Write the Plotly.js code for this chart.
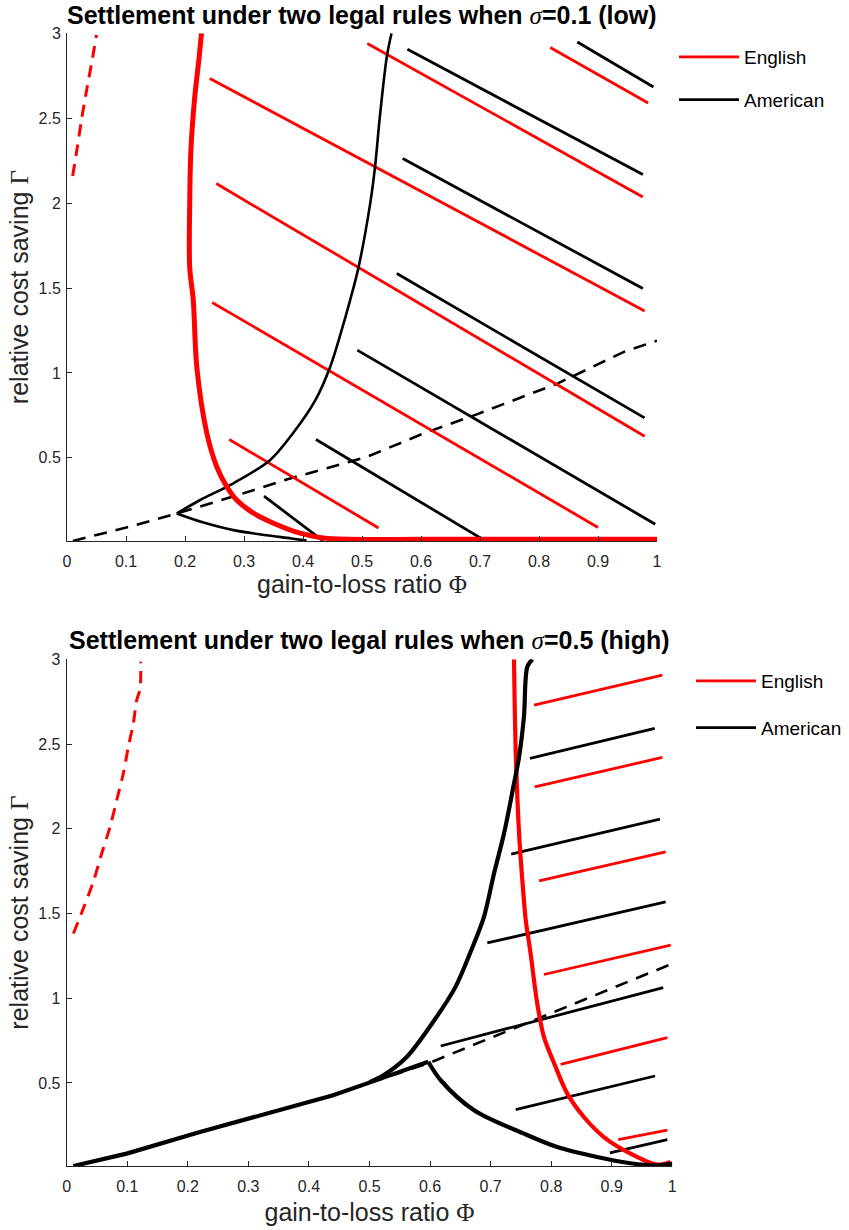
<!DOCTYPE html>
<html>
<head>
<meta charset="utf-8">
<script src="https://cdn.plot.ly/plotly-3.0.1.min.js"></script>
<style>html,body{margin:0;padding:0;background:#fff;}#chart{width:849px;height:1230px;}</style>
</head>
<body>
<div id="chart"></div>
<script>
// ---------- tick labels ----------
const xTickVals = [0, 0.1, 0.2, 0.3, 0.4, 0.5, 0.6, 0.7, 0.8, 0.9, 1];
const xTickText = ["0", "0.1", "0.2", "0.3", "0.4", "0.5", "0.6", "0.7", "0.8", "0.9", "1"];
const yTickVals = [0.5, 1, 1.5, 2, 2.5, 3];
const yTickText = ["0.5", "1", "1.5", "2", "2.5", "3"];

// ---------- top panel: sigma = 0.1 ----------
const topEnglishBoundaryX = [0.228, 0.224, 0.216, 0.21, 0.208, 0.208, 0.214, 0.22, 0.237, 0.254, 0.271, 0.288, 0.316, 0.35, 0.395, 0.434, 0.48, 0.6, 0.8, 1.0];
const topEnglishBoundaryY = [3.0, 2.86, 2.606, 2.31, 2.0, 1.62, 1.43, 1.035, 0.645, 0.446, 0.329, 0.25, 0.174, 0.115, 0.056, 0.028, 0.02, 0.02, 0.02, 0.02];
const topEnglishDashedX = [0.0096, 0.018, 0.025, 0.033, 0.042, 0.05];
const topEnglishDashedY = [2.16, 2.34, 2.5, 2.66, 2.83, 2.99];
const topAmericanUpperX = [0.55, 0.542, 0.53, 0.522, 0.514, 0.494, 0.48, 0.464, 0.446, 0.421, 0.383, 0.344, 0.282, 0.225, 0.186];
const topAmericanUpperY = [3.0, 2.86, 2.5, 2.21, 2.0, 1.62, 1.43, 1.234, 1.035, 0.84, 0.645, 0.486, 0.35, 0.25, 0.172];
const topAmericanLowerX = [0.186, 0.23, 0.282, 0.338, 0.38, 0.406];
const topAmericanLowerY = [0.172, 0.12, 0.074, 0.044, 0.025, 0.012];
const topAmericanDashedX = [0.01, 0.112, 0.186, 0.28, 0.378, 0.508, 0.604, 0.69, 0.831, 0.944, 1.0];
const topAmericanDashedY = [0.01, 0.1, 0.172, 0.27, 0.378, 0.505, 0.643, 0.75, 0.937, 1.124, 1.19];
const topEnglishLinesX = [[0.819, 0.985], [0.509, 0.976], [0.242, 0.979], [0.253, 0.979], [0.246, 0.9], [0.275, 0.528]];
const topEnglishLinesY = [[2.916, 2.59], [2.94, 2.036], [2.734, 1.365], [2.115, 0.627], [1.415, 0.09], [0.608, 0.087]];
const topAmericanLinesX = [[0.865, 0.994], [0.577, 0.976], [0.569, 0.976], [0.559, 0.979], [0.492, 0.997], [0.422, 0.707], [0.334, 0.434]];
const topAmericanLinesY = [[2.949, 2.684], [2.906, 2.168], [2.263, 1.497], [1.585, 0.735], [1.134, 0.109], [0.608, 0.015], [0.274, 0.011]];

// ---------- bottom panel: sigma = 0.5 ----------
const botEnglishBoundaryX = [0.7386, 0.7414, 0.747, 0.755, 0.758, 0.766, 0.777, 0.788, 0.805, 0.8266, 0.854, 0.887, 0.931, 0.975, 0.997];
const botEnglishBoundaryY = [3.0, 2.464, 1.972, 1.578, 1.46, 1.264, 0.969, 0.772, 0.615, 0.437, 0.299, 0.181, 0.083, 0.018, 0.034];
const botEnglishDashedX = [0.011, 0.0274, 0.0439, 0.0578, 0.0715, 0.0826, 0.0935, 0.1017, 0.11, 0.1156, 0.121, 0.1222];
const botEnglishDashedY = [1.382, 1.529, 1.687, 1.854, 2.011, 2.169, 2.326, 2.483, 2.622, 2.759, 2.824, 2.985];
const botAmericanUpperX = [0.769, 0.7606, 0.755, 0.747, 0.7386, 0.7221, 0.7056, 0.689, 0.668, 0.642, 0.607, 0.5614, 0.523, 0.5];
const botAmericanUpperY = [3.0, 2.956, 2.66, 2.424, 2.267, 1.972, 1.736, 1.48, 1.283, 1.067, 0.87, 0.653, 0.545, 0.505];
const botAmericanRiseX = [0.011, 0.099, 0.22, 0.33, 0.44, 0.495, 0.55, 0.597];
const botAmericanRiseY = [0.01, 0.083, 0.211, 0.319, 0.427, 0.496, 0.565, 0.625];
const botAmericanFallX = [0.597, 0.6176, 0.6726, 0.755, 0.81, 0.876, 0.931, 0.975, 1.0];
const botAmericanFallY = [0.625, 0.516, 0.339, 0.201, 0.122, 0.063, 0.026, 0.014, 0.024];
const botAmericanDashedX = [0.011, 0.1, 0.22, 0.33, 0.44, 0.5, 0.55, 0.6, 0.7276, 0.8266, 0.92, 1.0];
const botAmericanDashedY = [0.01, 0.085, 0.21, 0.32, 0.43, 0.5, 0.56, 0.62, 0.806, 0.951, 1.087, 1.204];
const botEnglishLinesX = [[0.7716, 0.9835], [0.7728, 0.9835], [0.78, 0.989], [0.788, 0.9974], [0.8157, 0.9918], [0.9108, 0.9918]];
const botEnglishLinesY = [[2.73, 2.907], [2.247, 2.421], [1.692, 1.864], [1.14, 1.313], [0.61, 0.768], [0.166, 0.221]];
const botAmericanLinesX = [[0.765, 0.971], [0.734, 0.9797], [0.6945, 0.989], [0.6176, 0.985], [0.7414, 0.9714], [0.897, 0.9918]];
const botAmericanLinesY = [[2.415, 2.592], [1.85, 2.057], [1.326, 1.568], [0.718, 1.063], [0.343, 0.541], [0.087, 0.166]];

const legendNames = ["English", "American"];
const titles = [
  "<b>Settlement under two legal rules when </b><span style=\"font-family:Liberation Serif;font-style:italic\">σ</span><b>=0.1 (low)</b>",
  "<b>Settlement under two legal rules when </b><span style=\"font-family:Liberation Serif;font-style:italic\">σ</span><b>=0.5 (high)</b>"
];
const xTitle = "gain-to-loss ratio <span style=\"font-family:Liberation Serif\">Φ</span>";
const yTitle = "relative cost saving <span style=\"font-family:Liberation Serif\">Γ</span>";

// ---------- helpers ----------
function joinSegs(segs) {
  const out = [];
  segs.forEach((s, i) => { if (i > 0) out.push(null); s.forEach(v => out.push(v)); });
  return out;
}
const RED = "#ff0000", BLK = "#000000";
function tr(x, y, xa, ya, color, width, dash, extra) {
  return Object.assign({
    type: "scatter", mode: "lines", x: x, y: y, xaxis: xa, yaxis: ya,
    line: { color: color, width: width, dash: dash || "solid" },
    showlegend: false, hoverinfo: "skip", connectgaps: false
  }, extra || {});
}
function smooth(t) { t.line.shape = "spline"; t.line.smoothing = 0.9; return t; }

const data = [
  // top
  smooth(tr(topEnglishDashedX, topEnglishDashedY, "x", "y", RED, 3, "12px,8px")),
  tr(topAmericanDashedX, topAmericanDashedY, "x", "y", BLK, 2.6, "13px,9px"),
  tr(joinSegs(topEnglishLinesX), joinSegs(topEnglishLinesY), "x", "y", RED, 2.8, "solid",
     { showlegend: true, name: legendNames[0], legend: "legend", legendgroup: "e1" }),
  tr(joinSegs(topAmericanLinesX), joinSegs(topAmericanLinesY), "x", "y", BLK, 2.8, "solid",
     { showlegend: true, name: legendNames[1], legend: "legend", legendgroup: "a1" }),
  smooth(tr(topAmericanUpperX, topAmericanUpperY, "x", "y", BLK, 2.6)),
  smooth(tr(topAmericanLowerX, topAmericanLowerY, "x", "y", BLK, 2.6)),
  smooth(tr(topEnglishBoundaryX, topEnglishBoundaryY, "x", "y", RED, 5)),
  // bottom
  smooth(tr(botEnglishDashedX, botEnglishDashedY, "x2", "y2", RED, 3, "12px,8px")),
  tr(botAmericanDashedX, botAmericanDashedY, "x2", "y2", BLK, 2.6, "13px,9px"),
  tr(joinSegs(botEnglishLinesX), joinSegs(botEnglishLinesY), "x2", "y2", RED, 2.8, "solid",
     { showlegend: true, name: legendNames[0], legend: "legend2", legendgroup: "e2" }),
  tr(joinSegs(botAmericanLinesX), joinSegs(botAmericanLinesY), "x2", "y2", BLK, 2.8, "solid",
     { showlegend: true, name: legendNames[1], legend: "legend2", legendgroup: "a2" }),
  smooth(tr(botEnglishBoundaryX, botEnglishBoundaryY, "x2", "y2", RED, 4.2)),
  smooth(tr(botAmericanUpperX, botAmericanUpperY, "x2", "y2", BLK, 4.2)),
  tr(botAmericanRiseX, botAmericanRiseY, "x2", "y2", BLK, 4.2),
  smooth(tr(botAmericanFallX, botAmericanFallY, "x2", "y2", BLK, 4.2))
];

const AX = "#262626";
const FONT = "Liberation Sans, Arial, sans-serif";
function xax(domain, anchor, standoff) {
  return {
    domain: domain, anchor: anchor, range: [0, 1], tickvals: xTickVals, ticktext: xTickText,
    showline: true, linecolor: AX, linewidth: 1, ticks: "inside", ticklen: 5, tickcolor: AX,
    tickfont: { family: FONT, size: 16, color: AX }, ticklabelstandoff: 6, showgrid: false, zeroline: false,
    title: { text: xTitle, font: { family: FONT, size: 25, color: AX }, standoff: standoff }
  };
}
function yax(domain, anchor) {
  return {
    domain: domain, anchor: anchor, range: [0.01, 3], tickvals: yTickVals, ticktext: yTickText,
    showline: true, linecolor: AX, linewidth: 1, ticks: "inside", ticklen: 5, tickcolor: AX,
    tickfont: { family: FONT, size: 16, color: AX }, ticklabelstandoff: 2, showgrid: false, zeroline: false,
    title: { text: yTitle, font: { family: FONT, size: 25, color: AX }, standoff: 2 }
  };
}
function leg(x, y, gap) {
  return {
    x: x, y: y, xanchor: "left", yanchor: "top", bgcolor: "rgba(0,0,0,0)", borderwidth: 0,
    font: { family: FONT, size: 19, color: "#000" }, traceorder: "grouped", tracegroupgap: gap,
    itemwidth: 60, itemclick: false, itemdoubleclick: false
  };
}

const W = 849, H = 1230;
const layout = {
  width: W, height: H, margin: { l: 0, r: 0, t: 0, b: 0 },
  paper_bgcolor: "#fff", plot_bgcolor: "#fff", showlegend: true,
  font: { family: FONT, color: AX },
  xaxis: xax([67 / W, 657 / W], "y", 5),
  yaxis: yax([1 - 541 / H, 1 - 33.3 / H], "x"),
  xaxis2: xax([66.7 / W, 672.3 / W], "y2", 9),
  yaxis2: yax([1 - 1166 / H, 1 - 659.3 / H], "x2"),
  legend: leg(674 / W, 1 - 38 / H, 15),
  legend2: leg(691 / W, 1 - 662 / H, 19),
  annotations: [
    { text: titles[0], xref: "paper", yref: "paper", x: 362 / W, y: 1 - 15 / H, xanchor: "center", yanchor: "middle",
      showarrow: false, font: { family: FONT, size: 25, color: "#000" } },
    { text: titles[1], xref: "paper", yref: "paper", x: 369.5 / W, y: 1 - 640 / H, xanchor: "center", yanchor: "middle",
      showarrow: false, font: { family: FONT, size: 25, color: "#000" } }
  ]
};

Plotly.newPlot("chart", data, layout, { staticPlot: true, displayModeBar: false });
</script>
</body>
</html>
